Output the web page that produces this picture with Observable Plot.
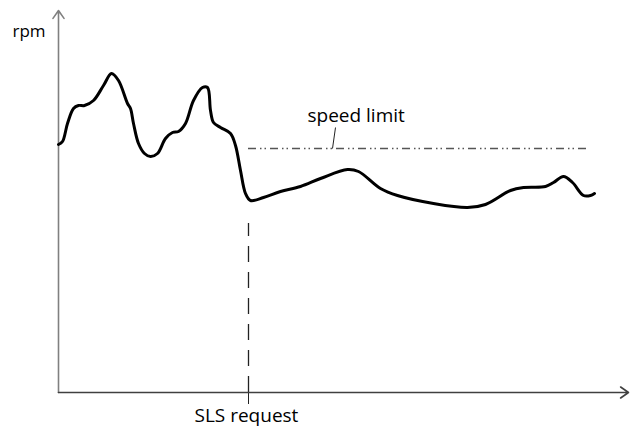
<!DOCTYPE html>
<html>
<head>
<meta charset="utf-8">
<script src="https://cdn.jsdelivr.net/npm/d3@7"></script>
<script src="https://cdn.jsdelivr.net/npm/@observablehq/plot@0.6"></script>
<style>
  html, body { margin: 0; padding: 0; background: #fff; }
  #chart svg { display: block; }
</style>
</head>
<body>
<div id="chart"></div>
<script>
// time (arbitrary units) and rpm (arbitrary units)
const time = [0, 4, 9, 15, 20, 26, 35, 45, 53, 60, 69, 72, 75, 80, 86, 92, 99, 107, 114, 120, 127, 135, 144, 149, 152, 155, 162, 172, 177, 182, 187, 192, 205, 222, 242, 262, 289, 300, 322, 339, 375, 409, 427, 452, 465, 487, 495, 505, 514, 525, 532, 536];
const rpm  = [248, 251, 269, 284, 287, 287, 292, 307, 319, 312, 289, 284, 269, 249, 239, 236, 239, 254, 260, 261, 269, 292, 305, 305, 282, 270, 265, 259, 247, 222, 199, 192, 195, 201, 206, 214, 223, 221, 204, 197, 189, 185, 188, 202, 205, 206, 210, 216, 210, 197, 197, 199];

const speedLimit = 244;
const slsTime = 190;
const speedLimitEnd = 529;
const xMax = 570;
const yMax = 382;

const axisLabel = [{text: "rpm", t: -46, r: 356}];
const annotations = [
  {text: "speed limit", t: 249, r: 272},
  {text: "SLS request", t: 136, r: -28}
];

const curve = time.map((t, i) => ({t, r: rpm[i]}));
const font = "'Open Sans', Lato, sans-serif";

const chart = Plot.plot({
  width: 631,
  height: 432,
  marginLeft: 58,
  marginRight: 3,
  marginTop: 10,
  marginBottom: 40,
  x: {domain: [0, xMax], axis: null},
  y: {domain: [0, yMax], axis: null},
  style: {fontFamily: font, background: "#fff"},
  marks: [
    // speed limit dash-dot-dot line
    Plot.ruleY([speedLimit], {x1: slsTime, x2: speedLimitEnd, stroke: "#555", strokeWidth: 1.5, strokeDasharray: "8,4,1.5,3,1.5,4"}),
    // leader line from label
    Plot.link([{x1: 277, y1: 265, x2: 274, y2: speedLimit}], {x1: "x1", y1: "y1", x2: "x2", y2: "y2", stroke: "#222", strokeWidth: 1}),
    // SLS request dashed vertical
    Plot.ruleX([slsTime], {y1: 0, y2: 169, stroke: "#222", strokeWidth: 1.3, strokeDasharray: "16,10"}),
    Plot.ruleX([slsTime], {y1: -12, y2: 0, stroke: "#222", strokeWidth: 1}),
    // axes with arrow heads
    Plot.arrow([{x1: 0, y1: 0, x2: 0, y2: yMax}], {x1: "x1", y1: "y1", x2: "x2", y2: "y2", stroke: "#808080", strokeWidth: 1.6, headLength: 9, headAngle: 70, bend: 0}),
    Plot.arrow([{x1: 0, y1: 0, x2: xMax, y2: 0}], {x1: "x1", y1: "y1", x2: "x2", y2: "y2", stroke: "#404040", strokeWidth: 1.6, headLength: 9, headAngle: 70, bend: 0}),
    // rpm curve
    Plot.line(curve, {x: "t", y: "r", curve: "catmull-rom", stroke: "#000", strokeWidth: 3}),
    // labels
    Plot.text(axisLabel, {x: "t", y: "r", text: "text", textAnchor: "start", fontSize: 17, fill: "#000", lineAnchor: "bottom"}),
    Plot.text(annotations, {x: "t", y: "r", text: "text", textAnchor: "start", fontSize: 19, fill: "#000", lineAnchor: "bottom", dy: 1})
  ]
});
document.getElementById("chart").appendChild(chart);
</script>
</body>
</html>
